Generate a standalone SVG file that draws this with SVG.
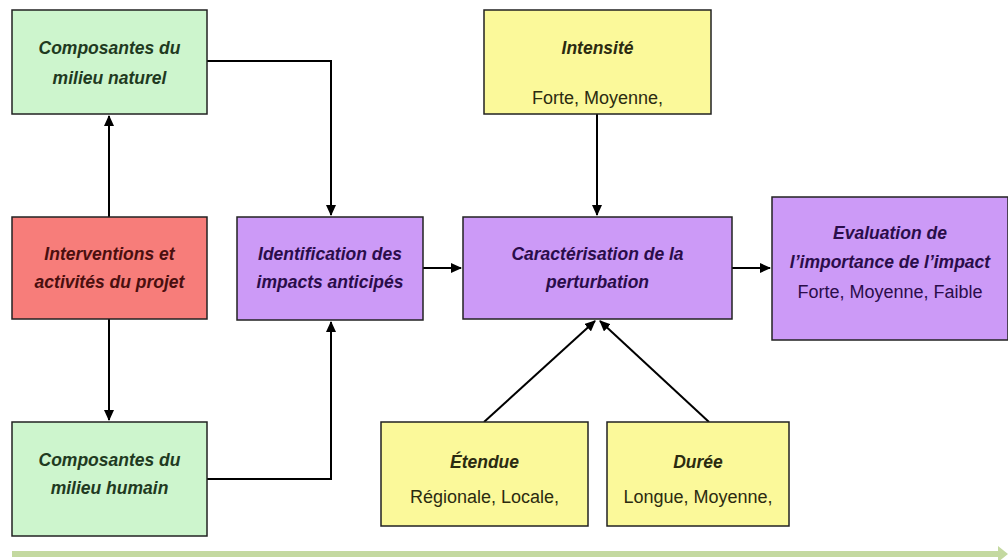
<svg xmlns="http://www.w3.org/2000/svg" width="1008" height="560" viewBox="0 0 1008 560">
<defs>
<marker id="ah" markerWidth="11" markerHeight="10" refX="10" refY="5" orient="auto" markerUnits="userSpaceOnUse">
<path d="M0,0 L11,5 L0,10 Z" fill="#000"/>
</marker>
<style>
.box{stroke:#222;stroke-width:1.5}
.green{fill:#cdf5cd}
.red{fill:#f77d7a}
.purple{fill:#cc9af7}
.yellow{fill:#fbf99a}
.t{font-family:"Liberation Sans",Arial,sans-serif;font-size:18px;text-anchor:middle}
.bi{font-style:italic;font-weight:bold;font-size:17.5px}
.tg{fill:#1f3a1f}
.tr{fill:#4a0f0f}
.tp{fill:#2a0d4a}
.ty{fill:#2b2b10}
.conn{fill:none;stroke:#000;stroke-width:2}
</style>
</defs>
<rect width="1008" height="560" fill="#fff"/>
<g id="connectors">
<path class="conn" d="M207,61 H331 V215" marker-end="url(#ah)"/>
<path class="conn" d="M207,479 H331 V322" marker-end="url(#ah)"/>
<path class="conn" d="M109,217 V116" marker-end="url(#ah)"/>
<path class="conn" d="M109,319 V420" marker-end="url(#ah)"/>
<path class="conn" d="M423,268 H461" marker-end="url(#ah)"/>
<path class="conn" d="M597,114 V215" marker-end="url(#ah)"/>
<path class="conn" d="M732,268 H770" marker-end="url(#ah)"/>
<path class="conn" d="M484,422 L595,321" marker-end="url(#ah)"/>
<path class="conn" d="M709,422 L600,321" marker-end="url(#ah)"/>
<path d="M12,551 H998 V546 L1008,554 L998,562 V557 H12 Z" fill="#c4d9a0"/>
</g>
<g id="n-naturel">
<rect class="box green" x="12" y="10" width="195" height="104"/>
<text class="t bi tg" x="109.5" y="54">Composantes du</text>
<text class="t bi tg" x="109.5" y="84">milieu naturel</text>
</g>
<g id="n-interventions">
<rect class="box red" x="12" y="217" width="195" height="102"/>
<text class="t bi tr" x="109.5" y="260">Interventions et</text>
<text class="t bi tr" x="109.5" y="288">activités du projet</text>
</g>
<g id="n-humain">
<rect class="box green" x="12" y="422" width="195" height="114"/>
<text class="t bi tg" x="109.5" y="466">Composantes du</text>
<text class="t bi tg" x="109.5" y="494">milieu humain</text>
</g>
<g id="n-identification">
<rect class="box purple" x="237" y="217" width="186" height="103"/>
<text class="t bi tp" x="330" y="260">Identification des</text>
<text class="t bi tp" x="330" y="288">impacts anticipés</text>
</g>
<g id="n-intensite">
<rect class="box yellow" x="484" y="10" width="227" height="104"/>
<text class="t bi ty" x="597.5" y="54">Intensité</text>
<text class="t ty" x="597.5" y="104">Forte, Moyenne,</text>
</g>
<g id="n-caracterisation">
<rect class="box purple" x="463" y="217" width="269" height="102"/>
<text class="t bi tp" x="597.5" y="260">Caractérisation de la</text>
<text class="t bi tp" x="597.5" y="288">perturbation</text>
</g>
<g id="n-evaluation">
<rect class="box purple" x="772" y="197" width="236" height="143"/>
<text class="t bi tp" x="890" y="239">Evaluation de</text>
<text class="t bi tp" x="890" y="268">l’importance de l’impact</text>
<text class="t tp" x="890" y="298">Forte, Moyenne, Faible</text>
</g>
<g id="n-etendue">
<rect class="box yellow" x="381" y="422" width="207" height="104"/>
<text class="t bi ty" x="484.5" y="468">Étendue</text>
<text class="t ty" x="484.5" y="503">Régionale, Locale,</text>
</g>
<g id="n-duree">
<rect class="box yellow" x="607" y="422" width="182" height="104"/>
<text class="t bi ty" x="698" y="468">Durée</text>
<text class="t ty" x="698" y="503">Longue, Moyenne,</text>
</g>
</svg>
